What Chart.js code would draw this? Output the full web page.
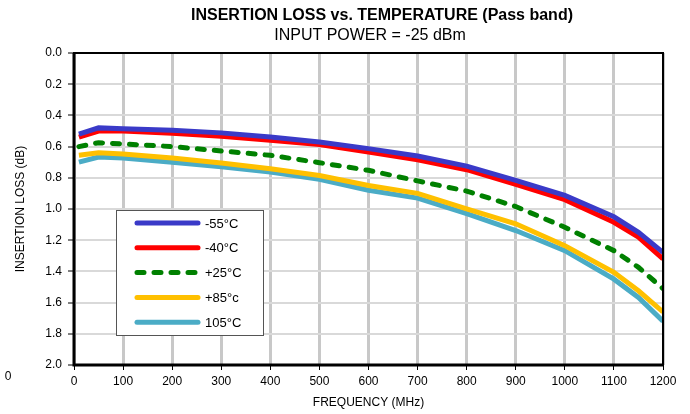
<!DOCTYPE html>
<html>
<head>
<meta charset="utf-8">
<script src="https://cdn.jsdelivr.net/npm/chart.js@4/dist/chart.umd.min.js"></script>
<style>
  html, body { margin: 0; padding: 0; background: #fff; }
  #wrap { width: 690px; height: 414px; position: relative; }
</style>
</head>
<body>
<div id="wrap"><canvas id="lossChart" width="690" height="414"></canvas></div>
<script>
// Frequencies (MHz) and insertion loss (dB) per temperature
const freqs   = [10, 50, 100, 200, 300, 400, 500, 600, 700, 800, 900, 1000, 1100, 1150, 1200];
const lossM55 = [0.52, 0.48, 0.485, 0.495, 0.512, 0.538, 0.57, 0.613, 0.66, 0.725, 0.817, 0.913, 1.05, 1.15, 1.278];
const lossM40 = [0.54, 0.50, 0.50, 0.514, 0.534, 0.56, 0.587, 0.635, 0.684, 0.748, 0.842, 0.94, 1.085, 1.18, 1.32];
const lossP25 = [0.60, 0.575, 0.583, 0.60, 0.628, 0.656, 0.703, 0.752, 0.82, 0.885, 0.984, 1.117, 1.267, 1.374, 1.51];
const lossP85 = [0.656, 0.64, 0.647, 0.673, 0.705, 0.742, 0.785, 0.849, 0.90, 0.999, 1.095, 1.235, 1.406, 1.524, 1.66];
const loss105 = [0.70, 0.667, 0.673, 0.70, 0.73, 0.763, 0.81, 0.88, 0.93, 1.03, 1.138, 1.267, 1.45, 1.567, 1.72];
const seriesNames = ['-55°C', '-40°C', '+25°C', '+85°c', '105°C'];
const yTicks = [0, 0.2, 0.4, 0.6, 0.8, 1.0, 1.2, 1.4, 1.6, 1.8, 2.0];
const xTicks = [0, 100, 200, 300, 400, 500, 600, 700, 800, 900, 1000, 1100, 1200];

const FONT = 'Arial, "Liberation Sans", sans-serif';
const colors = ['#3a3ac8', '#ff0000', '#008000', '#ffc000', '#4bacc6'];
const dashes = [[], [], [7, 10], [], []];

function pts(arr) {
    return freqs.map((f, i) => ({ x: f, y: arr[i] }));
}

// Titles, frame and the boxed legend
const decorPlugin = {
    id: 'decor',
    afterDatasetsDraw(chart) {
        const ctx = chart.ctx;
        const a = chart.chartArea;
        ctx.save();
        // frame
        ctx.strokeStyle = '#000';
        ctx.lineWidth = 2;
        ctx.strokeRect(a.left, a.top, a.right - a.left, a.bottom - a.top);
        ctx.lineWidth = 3;
        ctx.beginPath();
        ctx.moveTo(a.left, a.top);
        ctx.lineTo(a.left, a.bottom);
        ctx.lineTo(a.right, a.bottom);
        ctx.stroke();

        // legend box
        const bx = 116, by = 210, bw = 147, bh = 125;
        ctx.fillStyle = '#fff';
        ctx.fillRect(bx, by, bw, bh);
        ctx.strokeStyle = '#555';
        ctx.lineWidth = 1;
        ctx.strokeRect(bx + 0.5, by + 0.5, bw, bh);
        ctx.font = '13px ' + FONT;
        ctx.textBaseline = 'middle';
        ctx.textAlign = 'left';
        chart.data.datasets.forEach((ds, i) => {
            const y = by + 13 + i * 24.8;
            ctx.strokeStyle = ds.borderColor;
            ctx.lineWidth = 5;
            ctx.lineCap = 'round';
            ctx.setLineDash(ds.borderDash);
            ctx.beginPath();
            ctx.moveTo(137, y);
            ctx.lineTo(198, y);
            ctx.stroke();
            ctx.setLineDash([]);
            ctx.fillStyle = '#000';
            ctx.fillText(ds.label, 205, y + 1);
        });

        // titles
        ctx.fillStyle = '#000';
        ctx.textAlign = 'center';
        ctx.font = 'bold 16px ' + FONT;
        ctx.fillText('INSERTION LOSS vs. TEMPERATURE (Pass band)', 382, 16);
        ctx.font = '16px ' + FONT;
        ctx.fillText('INPUT POWER = -25 dBm', 370, 36);
        ctx.font = '12px ' + FONT;
        ctx.fillText('0', 8, 377);
        ctx.restore();
    }
};

function initChart() {
    const ctx = document.getElementById('lossChart').getContext('2d');
    const allLoss = [lossM55, lossM40, lossP25, lossP85, loss105];
    new Chart(ctx, {
        type: 'line',
        data: {
            datasets: allLoss.map((arr, i) => ({
                label: seriesNames[i],
                data: pts(arr),
                borderColor: colors[i],
                backgroundColor: colors[i],
                borderWidth: 5,
                borderDash: dashes[i],
                borderCapStyle: i === 2 ? 'round' : 'butt',
                pointRadius: 0,
                tension: 0,
                fill: false
            }))
        },
        options: {
            responsive: false,
            animation: false,
            layout: { padding: { top: 53, right: 27, left: 0, bottom: 0 } },
            plugins: {
                legend: { display: false },
                title: { display: false },
                tooltip: { enabled: false }
            },
            scales: {
                x: {
                    type: 'linear',
                    min: 0,
                    max: 1200,
                    afterBuildTicks: s => { s.ticks = xTicks.map(v => ({ value: v })); },
                    ticks: { color: '#000', font: { size: 12, family: FONT }, padding: 4, maxRotation: 0, callback: v => String(v) },
                    grid: { color: '#c8c8c8', lineWidth: 3, tickColor: '#000', tickLength: 5, tickWidth: 1 },
                    border: { display: false },
                    title: { display: true, text: 'FREQUENCY (MHz)', color: '#000', font: { size: 12, family: FONT }, padding: { top: 2, bottom: 4 } },
                    afterFit: s => { s.height = 49; }
                },
                y: {
                    min: 0,
                    max: 2,
                    reverse: true,
                    afterBuildTicks: s => { s.ticks = yTicks.map(v => ({ value: v })); },
                    ticks: { color: '#000', font: { size: 12, family: FONT }, padding: 6, callback: v => v.toFixed(1) },
                    grid: { color: '#d9d9d9', lineWidth: 2, tickColor: '#000', tickLength: 6, tickWidth: 1 },
                    border: { display: false },
                    title: { display: true, text: 'INSERTION LOSS (dB)', color: '#000', font: { size: 12, family: FONT }, padding: { top: 13, bottom: 4 } },
                    afterFit: s => { s.width = 74; }
                }
            }
        },
        plugins: [decorPlugin]
    });
}

document.addEventListener('DOMContentLoaded', initChart);
</script>
</body>
</html>
